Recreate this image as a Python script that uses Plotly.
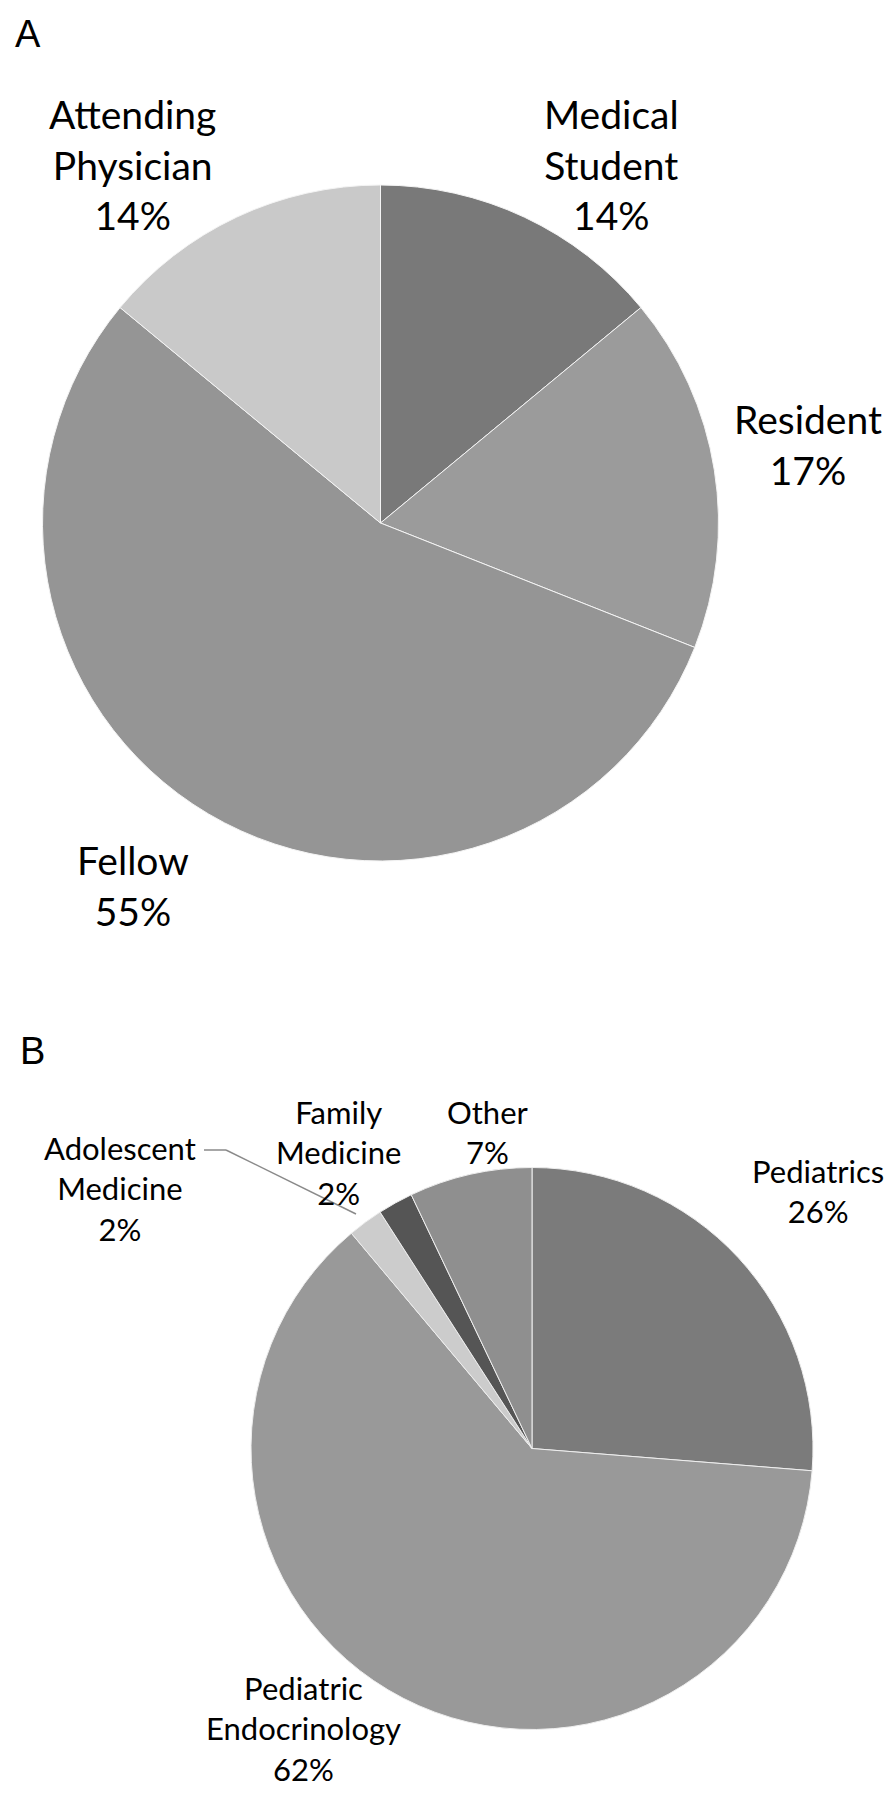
import plotly.graph_objects as go

W, H = 896, 1800

# ---- Data: panel A (training level) ----
a_labels = ["Medical<br>Student", "Resident", "Fellow", "Attending<br>Physician"]
a_values = [14, 17, 55, 14]
a_colors = ["#797979", "#9b9b9b", "#959595", "#c9c9c9"]

# ---- Data: panel B (specialty) ----
b_labels = ["Pediatrics", "Pediatric<br>Endocrinology", "Adolescent<br>Medicine",
            "Family<br>Medicine", "Other"]
b_values = [26, 62, 2, 2, 7]
b_colors = ["#7b7b7b", "#999999", "#cccccc", "#555555", "#8f8f8f"]

# ---- Layout: label anchor positions (pixels: centre x, first-line y) ----
a_label_pos = [(603, 106), (800, 411), (125, 852), (124, 106)]
b_label_pos = [(810, 1163), (295, 1680), (112, 1140), (330, 1104), (480, 1104)]
A_FONT = 39
B_FONT = 31
LINE = 1.3  # plotly line spacing (em)
FONT = "Lato"


def px_domain(cx, cy, r):
    return dict(x=[(cx - r) / W, (cx + r) / W],
                y=[1 - (cy + r) / H, 1 - (cy - r) / H])


fig = go.Figure()
fig.add_trace(go.Pie(
    labels=[l.replace("<br>", " ") for l in a_labels], values=a_values,
    sort=False, direction="clockwise", rotation=0,
    marker=dict(colors=a_colors, line=dict(color="#f4f4f4", width=1)),
    textinfo="none", hoverinfo="label+percent", showlegend=False,
    domain=px_domain(372.5, 515, 338),
))
fig.add_trace(go.Pie(
    labels=[l.replace("<br>", " ") for l in b_labels], values=b_values,
    sort=False, direction="clockwise", rotation=0,
    marker=dict(colors=b_colors, line=dict(color="#eeeeee", width=1)),
    textinfo="none", hoverinfo="label+percent", showlegend=False,
    domain=px_domain(524, 1440.5, 281),
))

annotations = []


def add_block(text, value, pos, size):
    full = f"{text}<br>{value}%"
    n = full.count("<br>") + 1
    cx, cy = pos
    yc = cy + (n - 1) * size * LINE / 2
    annotations.append(dict(
        x=cx / W, y=1 - yc / H, xref="paper", yref="paper",
        text=full, showarrow=False, xanchor="center", yanchor="middle",
        align="center", font=dict(family=FONT, size=size, color="#000000"),
    ))


for lab, val, pos in zip(a_labels, a_values, a_label_pos):
    add_block(lab, val, pos, A_FONT)
for lab, val, pos in zip(b_labels, b_values, b_label_pos):
    add_block(lab, val, pos, B_FONT)

# panel letters
for letter, (x, y) in zip(["A", "B"], [(20, 26), (24, 1043)]):
    annotations.append(dict(
        x=x / W, y=1 - y / H, xref="paper", yref="paper", text=letter,
        showarrow=False, xanchor="center", yanchor="middle",
        font=dict(family="Liberation Sans", size=38, color="#000000"),
    ))

# leader line for Adolescent Medicine label
leader = [(196, 1142), (218, 1142), (348, 1206)]
shapes = []
for (x0, y0), (x1, y1) in zip(leader[:-1], leader[1:]):
    shapes.append(dict(type="line", xref="paper", yref="paper",
                       x0=x0 / W, y0=1 - y0 / H, x1=x1 / W, y1=1 - y1 / H,
                       line=dict(color="#8a8a8a", width=1.5)))

fig.update_layout(
    width=W, height=H, margin=dict(l=0, r=0, t=0, b=0),
    paper_bgcolor="white", plot_bgcolor="white",
    annotations=annotations, shapes=shapes,
)

fig.write_html("out.html")
